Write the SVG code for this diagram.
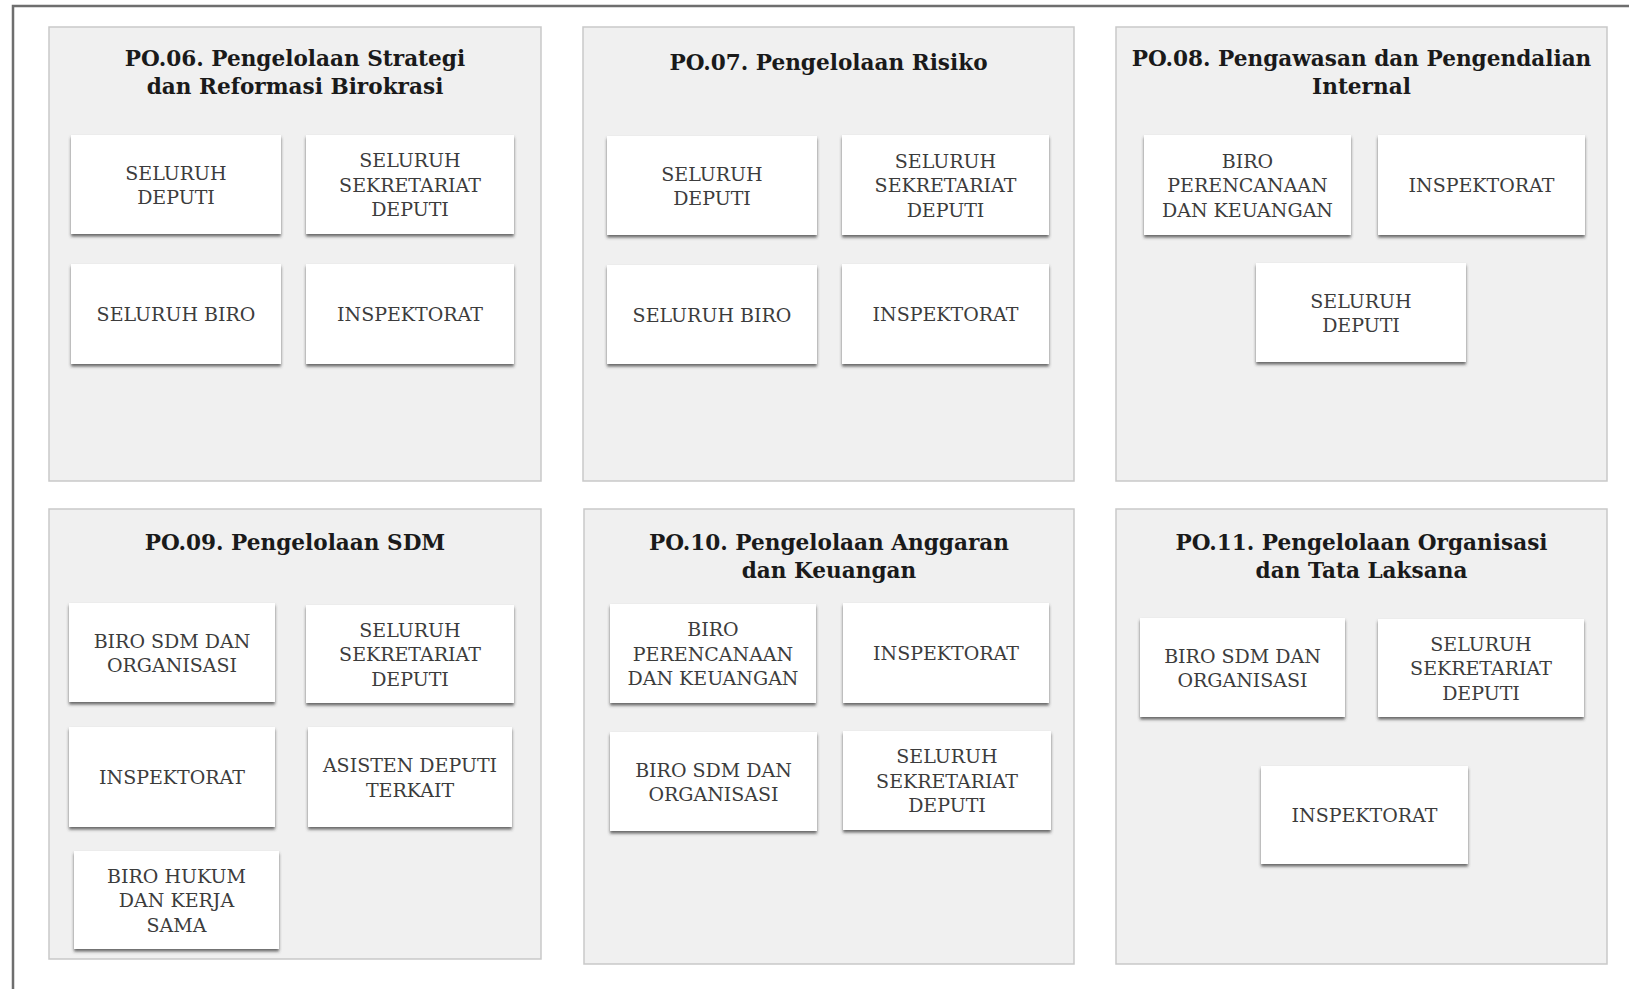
<svg xmlns="http://www.w3.org/2000/svg" width="1629" height="989" viewBox="0 0 1629 989">
<defs>
<filter id="sh" x="-10%" y="-10%" width="120%" height="130%">
<feDropShadow dx="0" dy="2.5" stdDeviation="1.6" flood-color="#3a3a3a" flood-opacity="0.75"/>
</filter>
<style>
.panel{fill:#f0f0f0;stroke:#c9c9c9;stroke-width:1.5}
.box{fill:#ffffff;filter:url(#sh)}
.title{font-family:"DejaVu Serif","Liberation Serif",serif;font-weight:bold;font-size:21.6px;fill:#1a1a1a;text-anchor:middle}
.lbl{font-family:"DejaVu Serif","Liberation Serif",serif;font-size:19px;fill:#3c3c3c;text-anchor:middle}
</style>
</defs>
<rect x="0" y="0" width="1629" height="989" fill="#ffffff"/>
<rect x="13" y="6" width="1660" height="1040" fill="none" stroke="#6e6e6e" stroke-width="2.5"/>

<g id="panel-po06">
<rect class="panel" x="49" y="27" width="492" height="454"/>
<text class="title"><tspan x="295" y="65.5">PO.06. Pengelolaan Strategi</tspan><tspan x="295" y="93.5">dan Reformasi Birokrasi</tspan></text>
</g>
<g id="n1a"><rect class="box" x="71" y="135" width="210" height="99"/><text class="lbl"><tspan x="176" y="179.5">SELURUH</tspan><tspan x="176" y="203.5">DEPUTI</tspan></text></g>
<g id="n1b"><rect class="box" x="306" y="135" width="208" height="99"/><text class="lbl"><tspan x="410" y="167">SELURUH</tspan><tspan x="410" y="191.5">SEKRETARIAT</tspan><tspan x="410" y="216">DEPUTI</tspan></text></g>
<g id="n1c"><rect class="box" x="71" y="264" width="210" height="100"/><text class="lbl" x="176" y="321">SELURUH BIRO</text></g>
<g id="n1d"><rect class="box" x="306" y="264" width="208" height="100"/><text class="lbl" x="410" y="321">INSPEKTORAT</text></g>

<g id="panel-po07">
<rect class="panel" x="583" y="27" width="491" height="454"/>
<text class="title" x="828.5" y="70">PO.07. Pengelolaan Risiko</text>
</g>
<g id="n2a"><rect class="box" x="607" y="136" width="210" height="99"/><text class="lbl"><tspan x="712" y="180.5">SELURUH</tspan><tspan x="712" y="204.5">DEPUTI</tspan></text></g>
<g id="n2b"><rect class="box" x="842" y="135" width="207" height="100"/><text class="lbl"><tspan x="945.5" y="167.5">SELURUH</tspan><tspan x="945.5" y="192">SEKRETARIAT</tspan><tspan x="945.5" y="216.5">DEPUTI</tspan></text></g>
<g id="n2c"><rect class="box" x="607" y="265" width="210" height="99"/><text class="lbl" x="712" y="321.5">SELURUH BIRO</text></g>
<g id="n2d"><rect class="box" x="842" y="264" width="207" height="100"/><text class="lbl" x="945.5" y="321">INSPEKTORAT</text></g>

<g id="panel-po08">
<rect class="panel" x="1116" y="27" width="491" height="454"/>
<text class="title"><tspan x="1361.5" y="65.5">PO.08. Pengawasan dan Pengendalian</tspan><tspan x="1361.5" y="93.5">Internal</tspan></text>
</g>
<g id="n3a"><rect class="box" x="1144" y="135" width="207" height="100"/><text class="lbl"><tspan x="1247.5" y="167.5">BIRO</tspan><tspan x="1247.5" y="192">PERENCANAAN</tspan><tspan x="1247.5" y="216.5">DAN KEUANGAN</tspan></text></g>
<g id="n3b"><rect class="box" x="1378" y="135" width="207" height="100"/><text class="lbl" x="1481.5" y="192">INSPEKTORAT</text></g>
<g id="n3c"><rect class="box" x="1256" y="263" width="210" height="99"/><text class="lbl"><tspan x="1361" y="307.5">SELURUH</tspan><tspan x="1361" y="331.5">DEPUTI</tspan></text></g>

<g id="panel-po09">
<rect class="panel" x="49" y="509" width="492" height="450"/>
<text class="title" x="295" y="550">PO.09. Pengelolaan SDM</text>
</g>
<g id="n4a"><rect class="box" x="69" y="603" width="206" height="99"/><text class="lbl"><tspan x="172" y="647.5">BIRO SDM DAN</tspan><tspan x="172" y="671.5">ORGANISASI</tspan></text></g>
<g id="n4b"><rect class="box" x="306" y="605" width="208" height="98"/><text class="lbl"><tspan x="410" y="636.5">SELURUH</tspan><tspan x="410" y="661">SEKRETARIAT</tspan><tspan x="410" y="685.5">DEPUTI</tspan></text></g>
<g id="n4c"><rect class="box" x="69" y="727" width="206" height="100"/><text class="lbl" x="172" y="784">INSPEKTORAT</text></g>
<g id="n4d"><rect class="box" x="308" y="727" width="204" height="100"/><text class="lbl"><tspan x="410" y="771.5">ASISTEN DEPUTI</tspan><tspan x="410" y="796.5">TERKAIT</tspan></text></g>
<g id="n4e"><rect class="box" x="74" y="851" width="205" height="98"/><text class="lbl"><tspan x="176.5" y="882.5">BIRO HUKUM</tspan><tspan x="176.5" y="907">DAN KERJA</tspan><tspan x="176.5" y="931.5">SAMA</tspan></text></g>

<g id="panel-po10">
<rect class="panel" x="584" y="509" width="490" height="455"/>
<text class="title"><tspan x="829" y="550">PO.10. Pengelolaan Anggaran</tspan><tspan x="829" y="578">dan Keuangan</tspan></text>
</g>
<g id="n5a"><rect class="box" x="610" y="604" width="206" height="99"/><text class="lbl"><tspan x="713" y="636">BIRO</tspan><tspan x="713" y="660.5">PERENCANAAN</tspan><tspan x="713" y="685">DAN KEUANGAN</tspan></text></g>
<g id="n5b"><rect class="box" x="843" y="603" width="206" height="100"/><text class="lbl" x="946" y="660">INSPEKTORAT</text></g>
<g id="n5c"><rect class="box" x="610" y="732" width="207" height="99"/><text class="lbl"><tspan x="713.5" y="776.5">BIRO SDM DAN</tspan><tspan x="713.5" y="800.5">ORGANISASI</tspan></text></g>
<g id="n5d"><rect class="box" x="843" y="731" width="208" height="99"/><text class="lbl"><tspan x="947" y="763">SELURUH</tspan><tspan x="947" y="787.5">SEKRETARIAT</tspan><tspan x="947" y="812">DEPUTI</tspan></text></g>

<g id="panel-po11">
<rect class="panel" x="1116" y="509" width="491" height="455"/>
<text class="title"><tspan x="1361.5" y="550">PO.11. Pengelolaan Organisasi</tspan><tspan x="1361.5" y="578">dan Tata Laksana</tspan></text>
</g>
<g id="n6a"><rect class="box" x="1140" y="618" width="205" height="99"/><text class="lbl"><tspan x="1242.5" y="662.5">BIRO SDM DAN</tspan><tspan x="1242.5" y="686.5">ORGANISASI</tspan></text></g>
<g id="n6b"><rect class="box" x="1378" y="619" width="206" height="98"/><text class="lbl"><tspan x="1481" y="650.5">SELURUH</tspan><tspan x="1481" y="675">SEKRETARIAT</tspan><tspan x="1481" y="699.5">DEPUTI</tspan></text></g>
<g id="n6c"><rect class="box" x="1261" y="766" width="207" height="98"/><text class="lbl" x="1364.5" y="822">INSPEKTORAT</text></g>

<g id="connectors"/>
</svg>
